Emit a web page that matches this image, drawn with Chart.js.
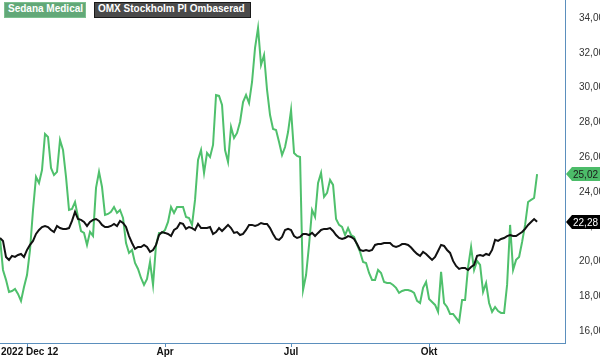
<!DOCTYPE html>
<html>
<head>
<meta charset="utf-8">
<script src="https://cdn.jsdelivr.net/npm/chart.js@4"></script>
<style>
  body { margin: 0; background: #fff; }
  #wrap { position: relative; width: 600px; height: 359px; }
  .leg { position: absolute; top: 2px; height: 16px; line-height: 14px; font: bold 10px "Liberation Sans", Arial, sans-serif; color: #fff; padding: 0 3px; box-sizing: border-box; white-space: nowrap; letter-spacing: 0; }
</style>
</head>
<body>
<div id="wrap">
  <canvas id="chart" width="600" height="359"></canvas>
  <div class="leg" style="left:4px;width:82px;background:#62a878;border:1px solid #7cbf8f">Sedana Medical</div>
  <div class="leg" style="left:94px;width:157px;background:#4a4a4a;border:1px solid #1a1a1a">OMX Stockholm PI Ombaserad</div>
</div>
<script>
// Sedana Medical vs OMX Stockholm PI (rebased), one value per trading day step
var sedana = [21.35, 19.51, 18.94, 18.25, 18.30, 18.42, 18.13, 17.73, 18.53, 19.22,
  20.66, 22.96, 24.86, 24.51, 25.26, 27.33, 27.16, 25.38, 24.97, 25.15,
  26.99, 26.41, 24.86, 22.96, 23.02, 23.42, 22.56, 21.75, 21.64, 20.95,
  21.70, 21.47, 24.23, 25.15, 24.28, 22.67, 22.73, 22.85, 23.13, 22.79,
  22.96, 22.50, 21.06, 20.49, 20.66, 19.91, 19.57, 19.05, 18.65, 18.99,
  19.97, 18.65, 20.95, 21.64, 21.64, 21.81, 22.27, 23.13, 22.79, 23.13,
  23.13, 23.13, 22.56, 22.50, 22.10, 23.54, 25.84, 26.41, 25.09, 26.24,
  26.01, 26.70, 29.57, 29.52, 29.00, 26.41, 25.72, 27.73, 27.10, 27.39,
  28.02, 29.17, 29.57, 29.11, 30.32, 32.28, 33.43, 31.30, 31.87, 29.86,
  28.42, 27.62, 27.56, 26.87, 26.12, 26.58, 27.44, 28.71, 26.24, 26.07,
  26.01, 18.36, 19.22, 20.95, 22.96, 22.56, 24.51, 25.09, 23.71, 23.94,
  24.69, 24.40, 22.44, 22.10, 21.98, 21.52, 21.92, 21.52, 21.41, 20.95,
  20.55, 19.97, 19.91, 19.34, 18.94, 18.94, 19.51, 19.34, 18.82, 18.76,
  18.76, 18.65, 18.48, 18.19, 18.30, 18.36, 18.36, 18.30, 18.19, 17.73,
  17.61, 18.48, 18.82, 17.84, 17.67, 17.50, 17.10, 19.40, 17.61, 17.38,
  16.98, 16.98, 16.75, 16.52, 17.79, 17.79, 19.68, 20.83, 19.51, 20.03,
  19.80, 18.25, 18.76, 17.61, 17.10, 17.38, 17.15, 17.04, 17.04, 18.65,
  22.10, 19.51, 20.09, 20.26, 21.12, 22.10, 23.42, 23.54, 23.65, 25.02];

var omx = [21.35, 21.18, 20.26, 20.09, 20.32, 20.26, 20.37, 20.43, 20.26, 20.66,
  20.95, 21.18, 21.58, 21.81, 21.98, 22.04, 21.98, 21.81, 21.69, 22.04,
  21.92, 21.87, 21.87, 21.92, 22.33, 22.85, 22.44, 22.39, 22.27, 22.04,
  22.27, 22.39, 22.44, 22.33, 22.10, 21.98, 21.98, 22.04, 22.16, 22.04,
  22.33, 22.21, 21.98, 21.46, 21.06, 20.72, 20.83, 20.83, 20.95, 20.83,
  20.55, 20.66, 20.95, 21.52, 21.69, 21.64, 21.58, 21.46, 21.81, 21.92,
  22.21, 22.16, 21.87, 21.98, 21.92, 21.81, 22.16, 21.92, 21.92, 21.92,
  21.98, 21.58, 21.69, 21.92, 21.75, 21.92, 22.10, 21.92, 21.64, 21.69,
  21.52, 21.58, 21.81, 22.10, 22.10, 22.04, 22.10, 22.21, 22.16, 22.16,
  21.92, 21.58, 21.29, 21.24, 21.41, 21.81, 21.87, 21.81, 21.46, 21.35,
  21.41, 21.58, 21.58, 21.52, 21.64, 21.46, 21.64, 21.81, 21.87, 21.87,
  21.92, 21.75, 21.52, 21.35, 21.29, 21.35, 21.46, 21.41, 21.29, 21.00,
  20.66, 20.60, 20.66, 20.60, 20.66, 20.95, 21.00, 21.00, 21.06, 21.06,
  21.06, 20.89, 20.83, 20.89, 21.00, 21.00, 20.95, 20.80, 20.60, 20.43,
  20.32, 20.55, 20.43, 20.26, 20.09, 20.26, 20.60, 20.95, 20.89, 20.66,
  20.49, 20.03, 19.74, 19.57, 19.63, 19.63, 19.51, 19.68, 19.80, 20.32,
  20.37, 20.32, 20.43, 20.37, 20.66, 21.24, 21.18, 21.29, 21.35, 21.46,
  21.52, 21.46, 21.46, 21.58, 21.69, 21.87, 22.10, 22.27, 22.44, 22.28];

var tickIndex = [9, 55, 97, 143];
var tickText = ['2022 Dec 12', 'Apr', 'Jul', 'Okt'];
var yTicks = [16, 18, 20, 22, 24, 26, 28, 30, 32, 34];

var axisColor = '#5b8fbd';
var greenLine = '#4fc06c';
var fontFam = '"Liberation Sans", Arial, sans-serif';

function pts(arr) {
  return arr.map(function (v, i) { return { x: i, y: v }; });
}
function fmt(v) {
  return v.toFixed(2).replace('.', ',');
}

// bottom labels, first one kept inside the canvas
var xLabels = {
  id: 'xLabels',
  afterDraw: function (chart) {
    var ctx = chart.ctx, xs = chart.scales.x, area = chart.chartArea;
    ctx.save();
    ctx.font = 'bold 10px ' + fontFam;
    ctx.fillStyle = '#111';
    ctx.textBaseline = 'middle';
    ctx.textAlign = 'left';
    for (var i = 0; i < tickIndex.length; i++) {
      var px = xs.getPixelForValue(tickIndex[i]);
      var w = ctx.measureText(tickText[i]).width;
      ctx.fillText(tickText[i], Math.max(1, px - w / 2), area.bottom + 9);
    }
    ctx.restore();
  }
};

// last value tags on the right axis
var lastTags = {
  id: 'lastTags',
  afterDraw: function (chart) {
    var ctx = chart.ctx, ys = chart.scales.y, area = chart.chartArea;
    var tags = [
      { v: sedana[sedana.length - 1], bg: '#4cbc69', fg: '#1a1a1a' },
      { v: omx[omx.length - 1], bg: '#000', fg: '#fff' }
    ];
    ctx.save();
    ctx.font = '10px ' + fontFam;
    ctx.textBaseline = 'middle';
    ctx.textAlign = 'left';
    tags.forEach(function (t) {
      var y = Math.round(ys.getPixelForValue(t.v));
      var x0 = area.right + 1;
      ctx.fillStyle = t.bg;
      ctx.beginPath();
      ctx.moveTo(x0, y);
      ctx.lineTo(x0 + 6, y - 7);
      ctx.lineTo(chart.width, y - 7);
      ctx.lineTo(chart.width, y + 7);
      ctx.lineTo(x0 + 6, y + 7);
      ctx.closePath();
      ctx.fill();
      ctx.fillStyle = t.fg;
      ctx.fillText(fmt(t.v), x0 + 7, y + 1);
    });
    ctx.restore();
  }
};

new Chart(document.getElementById('chart'), {
  type: 'line',
  data: {
    datasets: [
      { label: 'OMX Stockholm PI Ombaserad', data: pts(omx), borderColor: '#111', borderWidth: 2, pointRadius: 0, tension: 0 },
      { label: 'Sedana Medical', data: pts(sedana), borderColor: greenLine, borderWidth: 2, pointRadius: 0, tension: 0 }
    ]
  },
  options: {
    responsive: false,
    animation: false,
    events: [],
    layout: { padding: 0 },
    plugins: { legend: { display: false }, tooltip: { enabled: false } },
    scales: {
      x: {
        type: 'linear',
        min: 0,
        max: 188.3,
        afterBuildTicks: function (s) { s.ticks = tickIndex.map(function (v) { return { value: v }; }); },
        afterFit: function (s) { s.height = 16; s.paddingLeft = 0; s.paddingRight = 0; },
        ticks: { display: false },
        grid: { display: true, drawOnChartArea: false, drawTicks: true, tickLength: 4, color: axisColor },
        border: { display: true, color: axisColor, width: 1 }
      },
      y: {
        position: 'right',
        min: 15.31,
        max: 35.035,
        afterBuildTicks: function (s) { s.ticks = yTicks.map(function (v) { return { value: v }; }); },
        afterFit: function (s) { s.width = 35; s.paddingTop = 0; s.paddingBottom = 0; },
        ticks: { padding: 6, color: '#333', font: { size: 10, family: fontFam }, callback: function (v) { return fmt(v); } },
        grid: { display: false },
        border: { display: true, color: axisColor, width: 1 }
      }
    }
  },
  plugins: [xLabels, lastTags]
});
</script>
</body>
</html>
